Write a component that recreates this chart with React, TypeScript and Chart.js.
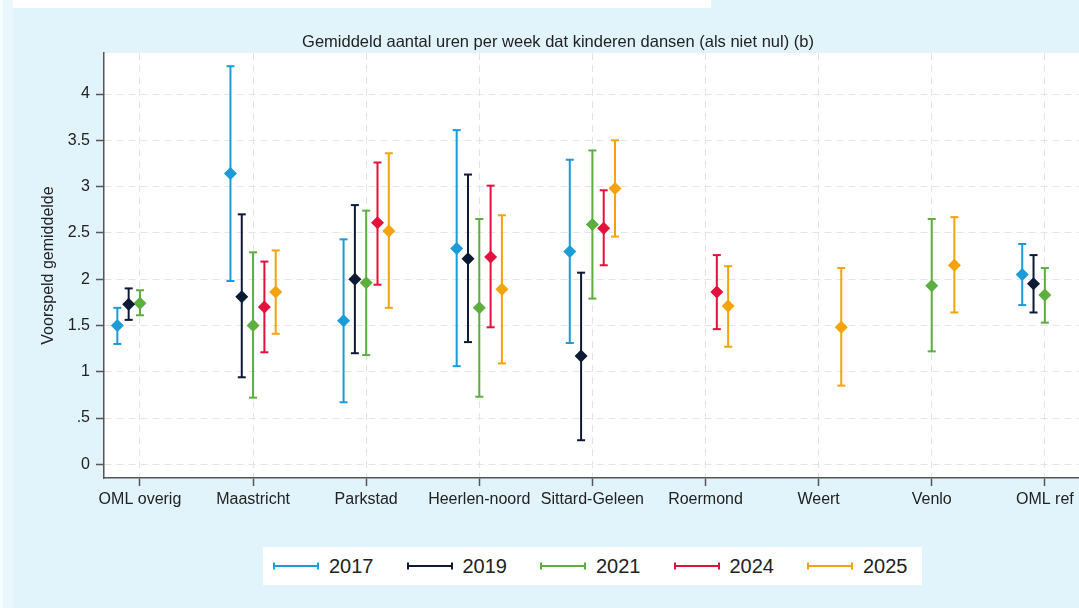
import React, { useEffect, useRef } from 'react';
import { Chart, registerables } from 'chart.js';

Chart.register(...registerables);

const FONT = '"Liberation Sans", Arial, sans-serif';

const chartTitle = 'Gemiddeld aantal uren per week dat kinderen dansen (als niet nul) (b)';
const yAxisTitle = 'Voorspeld gemiddelde';

const categories = [
  'OML overig',
  'Maastricht',
  'Parkstad',
  'Heerlen-noord',
  'Sittard-Geleen',
  'Roermond',
  'Weert',
  'Venlo',
  'OML ref',
];

const years = ['2017', '2019', '2021', '2024', '2025'];
const yearColors = ['#1b9bd7', '#0d1a33', '#5cae3e', '#e3113c', '#f5a30a'];
const yearOffsets = [-0.2, -0.1, 0, 0.1, 0.2];

const yTickValues = [0, 0.5, 1, 1.5, 2, 2.5, 3, 3.5, 4];
const yTickLabels = ['0', '.5', '1', '1.5', '2', '2.5', '3', '3.5', '4'];

// mean, lower, upper per category
const mean2017 = [1.5, 3.14, 1.55, 2.33, 2.3, null, null, null, 2.05];
const lo2017 = [1.3, 1.98, 0.67, 1.06, 1.31, null, null, null, 1.72];
const hi2017 = [1.69, 4.3, 2.43, 3.61, 3.29, null, null, null, 2.38];

const mean2019 = [1.73, 1.81, 2.0, 2.22, 1.17, null, null, null, 1.95];
const lo2019 = [1.56, 0.94, 1.2, 1.32, 0.26, null, null, null, 1.64];
const hi2019 = [1.9, 2.7, 2.8, 3.13, 2.07, null, null, null, 2.26];

const mean2021 = [1.74, 1.5, 1.96, 1.69, 2.59, null, null, 1.93, 1.83];
const lo2021 = [1.61, 0.72, 1.18, 0.73, 1.79, null, null, 1.22, 1.53];
const hi2021 = [1.88, 2.29, 2.74, 2.65, 3.39, null, null, 2.65, 2.12];

const mean2024 = [null, 1.7, 2.61, 2.24, 2.55, 1.86, null, null, null];
const lo2024 = [null, 1.21, 1.94, 1.48, 2.15, 1.46, null, null, null];
const hi2024 = [null, 2.19, 3.26, 3.01, 2.96, 2.26, null, null, null];

const mean2025 = [null, 1.86, 2.52, 1.89, 2.98, 1.71, 1.48, 2.15, null];
const lo2025 = [null, 1.41, 1.69, 1.09, 2.46, 1.27, 0.85, 1.64, null];
const hi2025 = [null, 2.31, 3.36, 2.69, 3.5, 2.14, 2.12, 2.67, null];

const means = [mean2017, mean2019, mean2021, mean2024, mean2025];
const lows = [lo2017, lo2019, lo2021, lo2024, lo2025];
const highs = [hi2017, hi2019, hi2021, hi2024, hi2025];

const plotAreaPlugin = {
  id: 'plotArea',
  beforeDraw(chart: any) {
    const { ctx, chartArea } = chart;
    ctx.save();
    ctx.fillStyle = '#ffffff';
    ctx.fillRect(chartArea.left, chartArea.top, chartArea.right - chartArea.left, chartArea.bottom - chartArea.top);
    ctx.restore();
  },
};

export default function App() {
  const canvasRef = useRef<HTMLCanvasElement | null>(null);

  useEffect(() => {
    const canvas = canvasRef.current;
    if (!canvas) return;

    const datasets: any[] = [];
    years.forEach((year, k) => {
      const pts: any[] = [];
      categories.forEach((_, i) => {
        const lo = lows[k][i];
        const hi = highs[k][i];
        if (lo == null || hi == null) return;
        const x = i + 1 + yearOffsets[k];
        pts.push({ x, y: lo }, { x, y: hi }, { x, y: null });
      });
      datasets.push({
        label: year + ' CI',
        data: pts,
        showLine: true,
        spanGaps: false,
        borderColor: yearColors[k],
        borderWidth: 2,
        pointStyle: 'line',
        pointRadius: 4,
        pointBorderWidth: 2,
        pointBorderColor: yearColors[k],
        pointBackgroundColor: yearColors[k],
        order: 1,
      });
    });
    years.forEach((year, k) => {
      const pts: any[] = [];
      categories.forEach((_, i) => {
        const m = means[k][i];
        if (m == null) return;
        pts.push({ x: i + 1 + yearOffsets[k], y: m });
      });
      datasets.push({
        label: year,
        data: pts,
        showLine: false,
        pointStyle: 'rectRot',
        pointRadius: 6.5,
        pointBorderWidth: 0,
        pointBackgroundColor: yearColors[k],
        pointBorderColor: yearColors[k],
        order: 0,
      });
    });

    const chart = new Chart(canvas, {
      type: 'scatter',
      data: { datasets },
      plugins: [plotAreaPlugin],
      options: {
        responsive: false,
        animation: false,
        events: [],
        layout: { autoPadding: false, padding: { top: 53, left: 0, right: 0, bottom: 0 } },
        plugins: {
          legend: { display: false },
          tooltip: { enabled: false },
          title: { display: false },
        },
        scales: {
          x: {
            type: 'linear',
            min: 0.682,
            max: 9.302,
            afterBuildTicks: (scale: any) => {
              scale.ticks = categories.map((_, i) => ({ value: i + 1 }));
            },
            afterFit: (scale: any) => {
              scale.height = 130;
              scale.paddingLeft = 0;
              scale.paddingRight = 0;
            },
            ticks: {
              autoSkip: false,
              maxRotation: 0,
              padding: 4,
              color: '#222222',
              font: { family: FONT, size: 16 },
              callback: (_v: any, i: number) => categories[i],
            },
            grid: {
              color: '#e4e4e4',
              lineWidth: 1,
              tickColor: '#555555',
              tickLength: 8,
              tickWidth: 1.5,
            },
            border: { display: true, color: '#555555', width: 1.5, dash: [7, 5] },
          },
          y: {
            type: 'linear',
            min: -0.148,
            max: 4.443,
            afterBuildTicks: (scale: any) => {
              scale.ticks = yTickValues.map((v) => ({ value: v }));
            },
            afterFit: (scale: any) => {
              scale.width = 104;
            },
            ticks: {
              padding: 6,
              color: '#222222',
              font: { family: FONT, size: 16 },
              callback: (_v: any, i: number) => yTickLabels[i],
            },
            title: {
              display: true,
              text: yAxisTitle,
              color: '#222222',
              font: { family: FONT, size: 16 },
              padding: { top: 39, bottom: 0 },
            },
            grid: {
              color: '#e4e4e4',
              lineWidth: 1,
              tickColor: '#555555',
              tickLength: 8,
              tickWidth: 1.5,
            },
            border: { display: true, color: '#555555', width: 1.5, dash: [7, 5] },
          },
        },
      } as any,
    });

    return () => chart.destroy();
  }, []);

  return (
    <div
      style={{
        position: 'fixed',
        left: 0,
        top: 0,
        width: 1079,
        height: 608,
        background: '#e1f3fb',
        overflow: 'hidden',
        fontFamily: FONT,
      }}
    >
      <div style={{ position: 'absolute', left: 0, top: 0, width: 3, height: 608, background: '#f6fbfe' }} />
      <div style={{ position: 'absolute', left: 3, top: 0, width: 10, height: 608, background: '#e9f6fc' }} />
      <div style={{ position: 'absolute', left: 13, top: 0, width: 698, height: 8, background: '#ffffff' }} />
      <canvas ref={canvasRef} width={1079} height={608} style={{ position: 'absolute', left: 0, top: 0 }} />
      <div
        style={{
          position: 'absolute',
          left: 258,
          width: 600,
          top: 31,
          textAlign: 'center',
          fontSize: 16.5,
          lineHeight: '20px',
          color: '#222222',
          whiteSpace: 'nowrap',
        }}
      >
        {chartTitle}
      </div>
      <div
        style={{
          position: 'absolute',
          left: 263,
          top: 547,
          width: 659,
          height: 38,
          background: '#ffffff',
        }}
      >
        {years.map((year, k) => (
          <div
            key={year}
            style={{
              position: 'absolute',
              left: 10 + k * 133.5,
              top: 0,
              height: 38,
              display: 'flex',
              alignItems: 'center',
            }}
          >
            <svg width={46} height={10} style={{ display: 'block' }}>
              <line x1={1} y1={5} x2={45} y2={5} stroke={yearColors[k]} strokeWidth={2} />
              <line x1={1} y1={1.5} x2={1} y2={8.5} stroke={yearColors[k]} strokeWidth={2} />
              <line x1={45} y1={1.5} x2={45} y2={8.5} stroke={yearColors[k]} strokeWidth={2} />
            </svg>
            <span style={{ marginLeft: 10, fontSize: 20, color: '#222222', lineHeight: '38px' }}>{year}</span>
          </div>
        ))}
      </div>
    </div>
  );
}
